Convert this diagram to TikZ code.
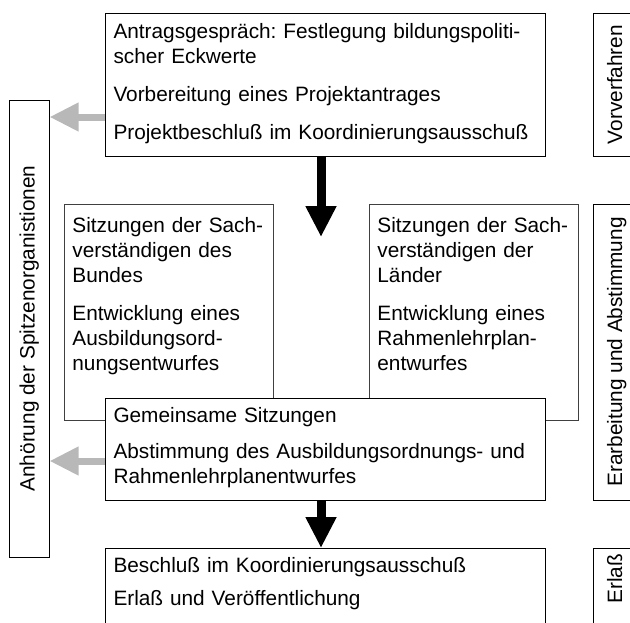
\documentclass[tikz,border=0pt]{standalone}
\usepackage{fontspec}
\setmainfont{Liberation Sans}
\usetikzlibrary{arrows.meta}
\definecolor{hintgray}{gray}{0.72}
\frenchspacing

\begin{document}
\begin{tikzpicture}[x=1pt,y=-1pt,
textblock/.style={draw,line width=1pt,anchor=north west,align=left,inner xsep=8pt,text height=15pt,font=\fontsize{20.8}{25}\selectfont},
subblock/.style={textblock,draw=black!75,line width=0.8pt,inner ysep=13pt,text depth=175pt,text width=193pt},
sideblock/.style={draw,line width=1pt,rotate=90,inner sep=0pt,minimum height=47pt,text height=15pt,text depth=4pt,font=\fontsize{20.8}{25}\selectfont},
flowarrow/.style={-{Triangle[length=31pt,width=29pt]},line width=9pt},
hintarrow/.style={-{Triangle[length=29pt,width=27pt]},line width=7pt,draw=hintgray}]

\useasboundingbox (0,0) rectangle (630,622);

\draw (105,13) node[textblock,inner ysep=10pt,text width=424pt,text depth=108pt] (antrag) {Antragsgespräch: Festlegung bildungspoliti-\\scher Eckwerte\\[13pt]Vorbereitung eines Projektantrages\\[13pt]Projektbeschluß im Koordinierungsausschuß};
\draw (64,204) node[subblock] (bund) {Sitzungen der Sach-\\verständigen des\\Bundes\\[13pt]Entwicklung eines\\Ausbildungsord-\\nungsentwurfes};
\draw (369,204) node[subblock] (laender) {Sitzungen der Sach-\\verständigen der\\Länder\\[13pt]Entwicklung eines\\Rahmenlehrplan-\\entwurfes};
\draw (105,398) node[textblock,fill=white,inner ysep=9pt,text width=424pt,text depth=69pt] (gemein) {Gemeinsame Sitzungen\\[11pt]Abstimmung des Ausbildungsordnungs- und\\Rahmenlehrplanentwurfes};
\draw (105,548) node[textblock,inner ysep=9pt,text width=424pt,text depth=59pt] (beschluss) {Beschluß im Koordinierungsausschuß\\[8pt]Erlaß und Veröffentlichung};

\draw (29,328.5) node[sideblock,minimum width=457pt,minimum height=40pt] (anh) {Anhörung der Spitzenorganistionen};
\draw (616.5,84.5) node[sideblock,minimum width=143pt] (vorv) {Vorverfahren};
\draw (616.5,352) node[sideblock,minimum width=296pt] (erarb) {Erarbeitung und Abstimmung};
\draw (616.5,594) node[sideblock,minimum width=92pt,text width=80pt,inner xsep=6pt,align=right] (erlass) {Erlaß};

\coordinate (hintA) at ([xshift=-0.5pt,yshift=40pt]antrag.south west);
\coordinate (hintB) at ([xshift=-0.5pt,yshift=40pt]gemein.south west);
\draw[hintarrow] (hintA) -- (hintA -| anh.south);
\draw[hintarrow] (hintB) -- (hintB -| anh.south);

\coordinate (flowA) at ([xshift=-4.5pt]antrag.south);
\coordinate (flowAend) at ([yshift=-80pt]flowA);
\draw[flowarrow] (flowA) -- (flowAend);
\draw[flowarrow] ([xshift=-4.5pt]gemein.south) -- ([xshift=-4.5pt]beschluss.north);
\end{tikzpicture}
\end{document}
